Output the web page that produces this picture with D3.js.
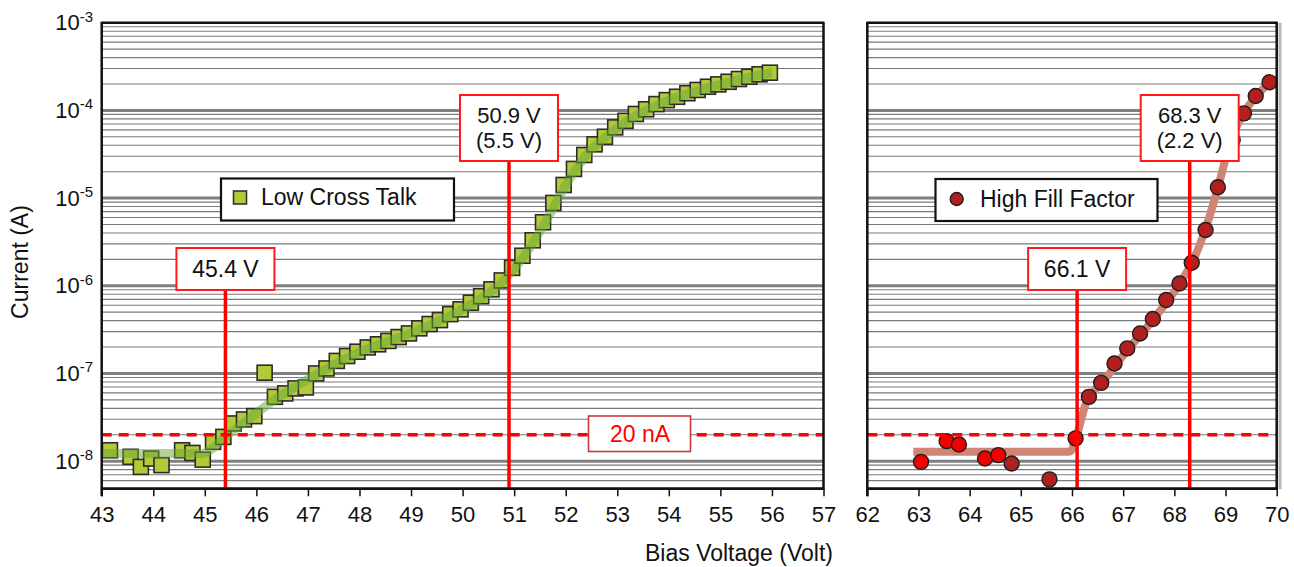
<!DOCTYPE html>
<html>
<head>
<meta charset="utf-8">
<script src="https://cdn.jsdelivr.net/npm/d3@7"></script>
<style>
  body { margin: 0; background: #fff; }
  svg { display: block; font-family: "Liberation Sans", Arial, sans-serif; }
  .tick text { font-size: 22px; fill: #111; }
</style>
</head>
<body>
<svg id="chart" width="1294" height="567"></svg>
<script>
// Low Cross Talk device (left panel)
const lctV = [43.16, 43.56, 43.76, 43.96, 44.16, 44.56, 44.76, 44.96, 45.16, 45.36,
  45.56, 45.76, 45.96, 46.16, 46.36, 46.56, 46.76, 46.96, 47.16, 47.36,
  47.56, 47.76, 47.96, 48.16, 48.36, 48.56, 48.76, 48.96, 49.16, 49.36,
  49.56, 49.76, 49.96, 50.16, 50.36, 50.56, 50.76, 50.96, 51.16, 51.36,
  51.56, 51.76, 51.96, 52.16, 52.36, 52.56, 52.76, 52.96, 53.16, 53.36,
  53.56, 53.76, 53.96, 54.16, 54.36, 54.56, 54.76, 54.96, 55.16, 55.36,
  55.56, 55.76, 55.96];
const lctI = [1.33e-8, 1.12e-8, 8.6e-9, 1.07e-8, 9.0e-9, 1.33e-8, 1.24e-8, 1.04e-8, 1.66e-8, 1.89e-8,
  2.69e-8, 2.99e-8, 3.26e-8, 1.02e-7, 5.41e-8, 5.92e-8, 6.75e-8, 6.93e-8, 1.0e-7, 1.14e-7,
  1.39e-7, 1.58e-7, 1.77e-7, 1.98e-7, 2.15e-7, 2.35e-7, 2.6e-7, 2.86e-7, 3.27e-7, 3.66e-7,
  4.06e-7, 4.75e-7, 5.38e-7, 6.4e-7, 7.6e-7, 9.1e-7, 1.15e-6, 1.6e-6, 2.2e-6, 3.3e-6,
  5.3e-6, 8.8e-6, 1.41e-5, 2.15e-5, 3.1e-5, 4.1e-5, 5.0e-5, 6.4e-5, 7.6e-5, 9.1e-5,
  1.03e-4, 1.18e-4, 1.31e-4, 1.43e-4, 1.57e-4, 1.71e-4, 1.86e-4, 1.98e-4, 2.12e-4, 2.28e-4,
  2.42e-4, 2.58e-4, 2.69e-4];
// trend line through the left data
const lctFitV = [43.0, 44.95, 45.4, 46.4, 47.2, 48.0, 49.0, 50.0, 50.8, 51.2, 51.6, 52.0, 52.4, 52.8, 53.2, 53.6, 54.0, 54.6, 55.2, 55.6, 56.0];
const lctFitI = [1.22e-8, 1.22e-8, 1.9e-8, 5.2e-8, 1.0e-7, 1.75e-7, 2.9e-7, 5.4e-7, 1.15e-6, 2.2e-6, 5.2e-6, 1.4e-5, 3.1e-5, 5.1e-5, 7.6e-5, 1.03e-4, 1.31e-4, 1.71e-4, 2.12e-4, 2.42e-4, 2.69e-4];

// High Fill Factor device (right panel), two overlapping runs
const hffRedV = [63.05, 63.55, 63.79, 64.30, 64.56, 66.07];
const hffRedI = [9.8e-9, 1.69e-8, 1.55e-8, 1.07e-8, 1.17e-8, 1.82e-8];
const hffDarkV = [64.82, 65.56, 66.33, 66.57, 66.83, 67.08, 67.33, 67.58, 67.84, 68.10,
  68.34, 68.61, 68.85, 69.14, 69.36, 69.59, 69.86];
const hffDarkI = [9.4e-9, 6.2e-9, 5.4e-8, 7.8e-8, 1.30e-7, 1.93e-7, 2.86e-7, 4.17e-7, 6.87e-7, 1.06e-6,
  1.83e-6, 4.32e-6, 1.33e-5, 4.6e-5, 9.25e-5, 1.46e-4, 2.09e-4];
const hffFitV = [62.9, 65.95, 66.3, 66.6, 67.1, 67.6, 68.1, 68.35, 68.6, 68.85, 69.1, 69.35, 69.6, 69.9];
const hffFitI = [1.28e-8, 1.28e-8, 5.0e-8, 8.0e-8, 1.9e-7, 4.2e-7, 1.05e-6, 1.85e-6, 4.3e-6, 1.3e-5, 4.5e-5, 9.2e-5, 1.45e-4, 2.2e-4];

// breakdown markers and threshold
const leftMarks = [45.4, 50.9];
const leftMarkText = [['45.4 V'], ['50.9 V', '(5.5 V)']];
const rightMarks = [66.1, 68.3];
const rightMarkText = [['66.1 V'], ['68.3 V', '(2.2 V)']];
const threshold = 2e-8;
const thresholdText = '20 nA';

const leftTicks = [43, 44, 45, 46, 47, 48, 49, 50, 51, 52, 53, 54, 55, 56, 57];
const rightTicks = [62, 63, 64, 65, 66, 67, 68, 69, 70];
const decades = [1e-8, 1e-7, 1e-6, 1e-5, 1e-4, 1e-3];
const decadeExp = ['-8', '-7', '-6', '-5', '-4', '-3'];

const svg = d3.select('#chart');
const plotTop = 22.7, plotBottom = 488.3;

const xL = d3.scaleLinear().domain([43, 57]).range([101.7, 823.5]);
const xR = d3.scaleLinear().domain([62, 70]).range([867.3, 1276.7]);
const y = d3.scaleLog().domain([4.9e-9, 1e-3]).range([plotBottom, plotTop]);

const panels = [
  { x: xL, ticks: leftTicks },
  { x: xR, ticks: rightTicks }
];

// grid lines
const minor = y.ticks().filter(v => !decades.some(d => Math.abs(d - v) / d < 1e-6));
panels.forEach(p => {
  const [x0, x1] = p.x.range();
  svg.append('g').selectAll('line').data(minor).enter().append('line')
    .attr('x1', x0).attr('x2', x1)
    .attr('y1', d => y(d)).attr('y2', d => y(d))
    .attr('stroke', '#7a7a7a').attr('stroke-width', 1.1);
  svg.append('g').selectAll('line').data(decades.slice(0, 5)).enter().append('line')
    .attr('x1', x0).attr('x2', x1)
    .attr('y1', d => y(d)).attr('y2', d => y(d))
    .attr('stroke', '#7f7f7f').attr('stroke-width', 3);
});

// right trend line sits behind its points
const lineR = d3.line().x(d => xR(d[0])).y(d => y(d[1])).curve(d3.curveMonotoneX);
svg.append('path')
  .datum(hffFitV.map((v, i) => [v, hffFitI[i]]))
  .attr('d', lineR)
  .attr('fill', 'none').attr('stroke', '#cf8474').attr('stroke-width', 8)
  .attr('stroke-linejoin', 'round');

// left squares
const sq = 15;
svg.append('g').selectAll('rect').data(lctV).enter().append('rect')
  .attr('x', (d) => xL(d) - sq / 2)
  .attr('y', (d, i) => y(lctI[i]) - sq / 2)
  .attr('width', sq).attr('height', sq)
  .attr('fill', '#b3c93a').attr('stroke', '#2b2b2b').attr('stroke-width', 1.6);

// left trend line drawn over the squares
const lineL = d3.line().x(d => xL(d[0])).y(d => y(d[1])).curve(d3.curveMonotoneX);
svg.append('path')
  .datum(lctFitV.map((v, i) => [v, lctFitI[i]]))
  .attr('d', lineL)
  .attr('fill', 'none').attr('stroke', 'rgba(104,168,56,0.5)').attr('stroke-width', 9)
  .attr('stroke-linejoin', 'round');

// right circles
svg.append('g').selectAll('circle').data(hffDarkV).enter().append('circle')
  .attr('cx', d => xR(d)).attr('cy', (d, i) => y(hffDarkI[i])).attr('r', 7.5)
  .attr('fill', '#b11f1f').attr('stroke', '#1e1e1e').attr('stroke-width', 1.4);
svg.append('g').selectAll('circle').data(hffRedV).enter().append('circle')
  .attr('cx', d => xR(d)).attr('cy', (d, i) => y(hffRedI[i])).attr('r', 7.5)
  .attr('fill', '#f20000').attr('stroke', '#1e1e1e').attr('stroke-width', 1.4);

// 20 nA threshold
panels.forEach(p => {
  const [x0, x1] = p.x.range();
  svg.append('line')
    .attr('x1', x0).attr('x2', x1)
    .attr('y1', y(threshold)).attr('y2', y(threshold))
    .attr('stroke', '#ff0000').attr('stroke-width', 3.5)
    .attr('stroke-dasharray', '10,7');
});

// breakdown lines and their boxes
function markers(x, vals, texts) {
  vals.forEach((v, i) => {
    const lines = texts[i];
    const boxTop = lines.length > 1 ? 95 : 248;
    const boxH = lines.length > 1 ? 66 : 42;
    svg.append('line')
      .attr('x1', x(v)).attr('x2', x(v))
      .attr('y1', boxTop + boxH).attr('y2', plotBottom)
      .attr('stroke', '#ff0000').attr('stroke-width', 3.5);
    svg.append('rect')
      .attr('x', x(v) - 49).attr('y', boxTop)
      .attr('width', 98).attr('height', boxH)
      .attr('fill', '#fff').attr('stroke', '#ff1a1a').attr('stroke-width', 2);
    lines.forEach((t, j) => {
      svg.append('text')
        .attr('x', x(v)).attr('y', boxTop + (lines.length > 1 ? 27.5 : 29) + j * 25)
        .attr('text-anchor', 'middle').attr('font-size', lines.length > 1 ? 22 : 23).attr('fill', '#111')
        .text(t);
    });
  });
}
markers(xL, leftMarks, leftMarkText);
markers(xR, rightMarks, rightMarkText);

// threshold label
svg.append('rect')
  .attr('x', 588.5).attr('y', 416).attr('width', 102).attr('height', 35.5)
  .attr('fill', '#fff').attr('stroke', '#c43a3a').attr('stroke-width', 1.6);
svg.append('text')
  .attr('x', 640).attr('y', 442)
  .attr('text-anchor', 'middle').attr('font-size', 23).attr('fill', '#ff0000')
  .text(thresholdText);

// frames and x axes
panels.forEach(p => {
  const [x0, x1] = p.x.range();
  svg.append('g')
    .attr('transform', 'translate(0,' + plotBottom + ')')
    .call(d3.axisBottom(p.x).tickValues(p.ticks).tickFormat(d3.format('d')).tickSize(8).tickSizeOuter(0))
    .call(g => g.select('.domain').attr('stroke', '#111').attr('stroke-width', 2.5))
    .call(g => g.selectAll('.tick line').attr('stroke', '#111').attr('stroke-width', 1.5))
    .call(g => g.selectAll('.tick text').attr('dy', '1.05em').attr('font-family', null).attr('font-size', null));
  svg.append('line').attr('x1', x0).attr('x2', x1).attr('y1', plotTop).attr('y2', plotTop)
    .attr('stroke', '#111').attr('stroke-width', 2.5);
  svg.append('line').attr('x1', x0).attr('x2', x0).attr('y1', plotTop - 1).attr('y2', plotBottom + 8)
    .attr('stroke', '#111').attr('stroke-width', 2.5);
  svg.append('line').attr('x1', x1).attr('x2', x1).attr('y1', plotTop - 1).attr('y2', plotBottom + 1)
    .attr('stroke', '#111').attr('stroke-width', 2.5);
});
// light shadow on the outer edge
svg.append('line').attr('x1', 1280).attr('x2', 1280).attr('y1', plotTop).attr('y2', plotBottom + 1)
  .attr('stroke', '#b8b8b8').attr('stroke-width', 3);

// y tick labels with superscripts
const yl = svg.append('g').selectAll('text').data(decades).enter().append('text')
  .attr('x', 93).attr('y', d => y(d) + 7.5)
  .attr('text-anchor', 'end').attr('font-size', 22).attr('fill', '#111');
yl.append('tspan').text('10');
yl.append('tspan').attr('dy', -8.5).attr('font-size', 15).text((d, i) => decadeExp[i]);

// axis titles
svg.append('text')
  .attr('x', 739).attr('y', 561)
  .attr('text-anchor', 'middle').attr('font-size', 23).attr('fill', '#111')
  .text('Bias Voltage (Volt)');
svg.append('text')
  .attr('transform', 'translate(28,262) rotate(-90)')
  .attr('text-anchor', 'middle').attr('font-size', 23).attr('fill', '#111')
  .text('Current (A)');

// legends
svg.append('rect').attr('x', 221).attr('y', 178.5).attr('width', 233).attr('height', 42)
  .attr('fill', '#fff').attr('stroke', '#111').attr('stroke-width', 2.2);
svg.append('rect').attr('x', 233.5).attr('y', 191).attr('width', 13).attr('height', 13)
  .attr('fill', '#b3c93a').attr('stroke', '#2b2b2b').attr('stroke-width', 1.5);
svg.append('text').attr('x', 261).attr('y', 205).attr('font-size', 23).attr('fill', '#111')
  .text('Low Cross Talk');

svg.append('rect').attr('x', 935.5).attr('y', 179).attr('width', 222).attr('height', 42)
  .attr('fill', '#fff').attr('stroke', '#111').attr('stroke-width', 2.2);
svg.append('circle').attr('cx', 956.7).attr('cy', 199).attr('r', 6.5)
  .attr('fill', '#b11f1f').attr('stroke', '#1e1e1e').attr('stroke-width', 1.4);
svg.append('text').attr('x', 980).attr('y', 207).attr('font-size', 23).attr('fill', '#111')
  .text('High Fill Factor');
</script>
</body>
</html>
